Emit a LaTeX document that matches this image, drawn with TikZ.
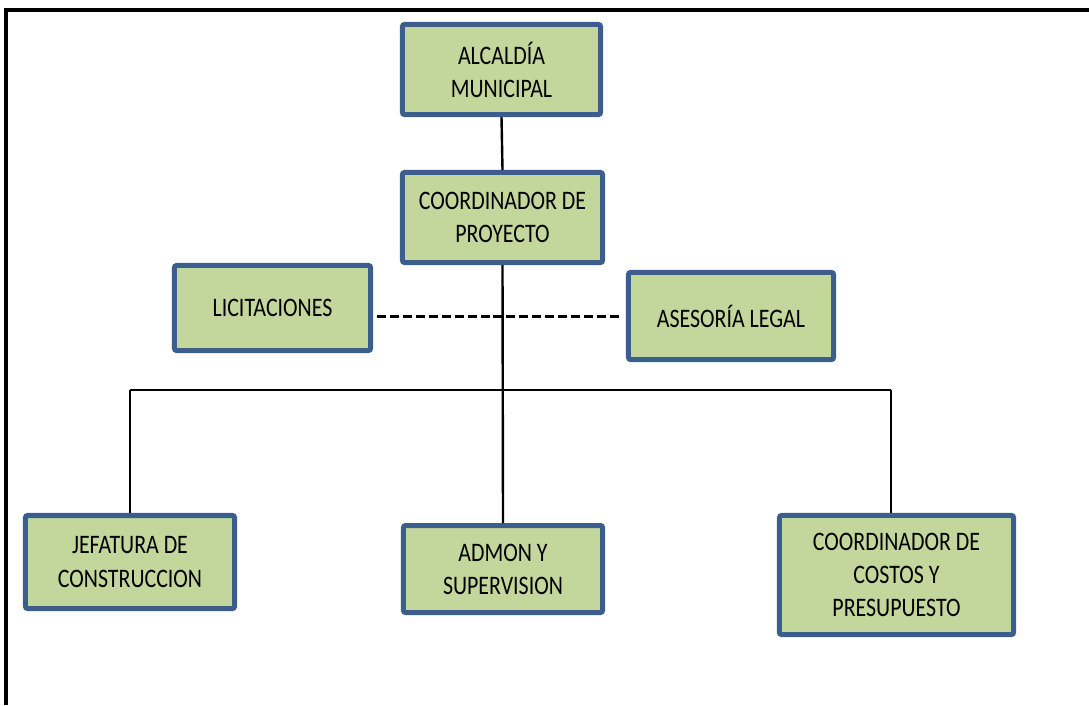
\documentclass[tikz,border=0pt]{standalone}
\usepackage{fontspec}
\setmainfont{Carlito}[FakeStretch=0.82]
\definecolor{boxfill}{HTML}{C3D69B}
\definecolor{boxline}{HTML}{3B5E8C}
\tikzset{
  orgbox/.style={draw=boxline, fill=boxfill, line width=0.125cm, rounded corners=1.5pt,
    align=center, inner sep=2pt, font=\fontsize{19}{23.5}\selectfont},
  orgline/.style={line width=0.06cm},
}
\begin{document}
\begin{tikzpicture}[x=0.025cm,y=-0.025cm]
            \useasboundingbox (0,0) rectangle (1089,705);
            % Drawing frame
            \draw [line width=0.12cm, line join=miter] (6,705) -- (6,10) -- (1089,10);%

            % Drawing box alcaldia
            \node [orgbox, minimum width=4.95cm, minimum height=2.25cm] (alcaldia) at (501.5,69.5) {ALCALD\'IA\\MUNICIPAL};%

            % Drawing box coordinador
            \node [orgbox, minimum width=5.0cm, minimum height=2.25cm] (coordinador) at (502.5,217.5) {COORDINADOR DE\\PROYECTO};%

            % Drawing box licitaciones
            \node [orgbox, minimum width=4.9cm, minimum height=2.125cm] (licitaciones) at (272.5,308) {LICITACIONES};%

            % Drawing box asesoria
            \node [orgbox, minimum width=5.125cm, minimum height=2.175cm] (asesoria) at (731,316) {ASESOR\'IA LEGAL};%

            % Drawing box jefatura
            \node [orgbox, minimum width=5.225cm, minimum height=2.325cm] (jefatura) at (130,562) {JEFATURA DE\\CONSTRUCCION};%

            % Drawing box admon
            \node [orgbox, minimum width=4.975cm, minimum height=2.175cm] (admon) at (503,569) {ADMON Y\\SUPERVISION};%

            % Drawing box costos
            \node [orgbox, minimum width=5.85cm, minimum height=2.975cm] (costos) at (896.5,575) {COORDINADOR DE\\COSTOS Y\\PRESUPUESTO};%

            % Marking bus ends
            \coordinate (busL) at (130,390);%
            \coordinate (busR) at (891,390);%

            % Drawing line alcaldia - coordinador
            \draw [orgline] (alcaldia.south) -- (coordinador.north);%

            % Drawing line coordinador - admon
            \draw [orgline] (coordinador.south) -- (admon.north);%

            % Drawing line bus
            \draw [orgline] (busL) -- (busR);%
            \draw [orgline] (busL) -- (jefatura.north);%
            \draw [orgline] (busR) -- (busR |- costos.north);%

            % Drawing dashed line licitaciones - asesoria
            \draw [line width=0.075cm, dash pattern=on 6.4pt off 2.8pt] ([xshift=0.1cm]licitaciones.east |- asesoria.west) -- ([xshift=-0.15cm]asesoria.west);%
\end{tikzpicture}
\end{document}
